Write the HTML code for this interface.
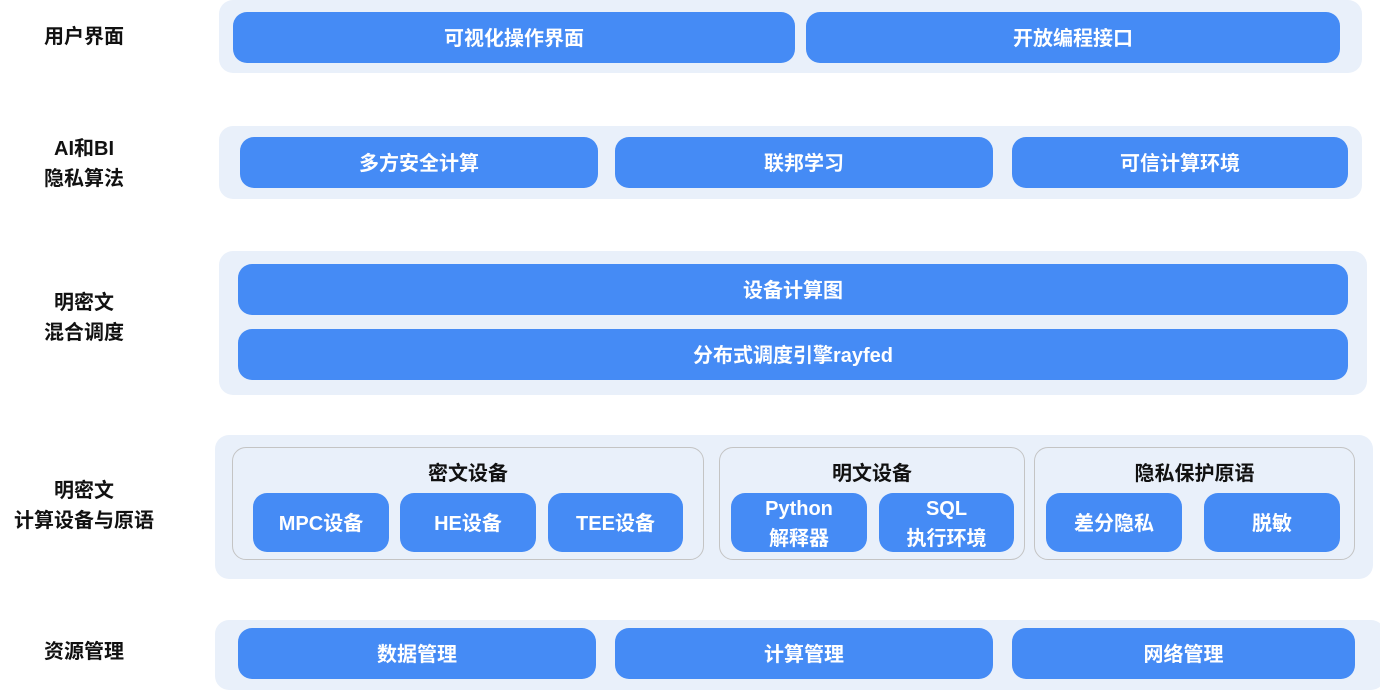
<!DOCTYPE html>
<html><head><meta charset="utf-8"><style>
body{margin:0;width:1380px;height:686px;background:#fff;position:relative;overflow:hidden;font-family:"Liberation Sans","Noto Sans CJK SC",sans-serif;font-weight:bold}
.p{position:absolute;background:#e9f0fa;border-radius:14px}
.b{position:absolute;background:#458bf5;color:#fff;border-radius:14px;display:flex;align-items:center;justify-content:center;text-align:center;font-size:20px;line-height:26px;padding-top:2px;box-sizing:border-box}
.b2{line-height:30px}
.g{position:absolute;border:1.5px solid #c4c4c4;border-radius:14px;box-sizing:border-box}
.t{position:absolute;color:#111;font-size:20px;text-align:center;line-height:30px}
</style></head><body>
<div class="t" style="left:0;width:168px;top:22px">用户界面</div>
<div class="t" style="left:0;width:168px;top:134px">AI和BI<br>隐私算法</div>
<div class="t" style="left:0;width:168px;top:288px">明密文<br>混合调度</div>
<div class="t" style="left:0;width:168px;top:476px">明密文<br>计算设备与原语</div>
<div class="t" style="left:0;width:168px;top:637px">资源管理</div>

<div class="p" style="left:219px;top:0;width:1143px;height:73px"></div>
<div class="b" style="left:233px;top:12px;width:562px;height:51px">可视化操作界面</div>
<div class="b" style="left:806px;top:12px;width:534px;height:51px">开放编程接口</div>

<div class="p" style="left:219px;top:126px;width:1143px;height:73px"></div>
<div class="b" style="left:240px;top:137px;width:358px;height:51px">多方安全计算</div>
<div class="b" style="left:615px;top:137px;width:378px;height:51px">联邦学习</div>
<div class="b" style="left:1012px;top:137px;width:336px;height:51px">可信计算环境</div>

<div class="p" style="left:219px;top:251px;width:1148px;height:144px"></div>
<div class="b" style="left:238px;top:264px;width:1110px;height:51px">设备计算图</div>
<div class="b" style="left:238px;top:329px;width:1110px;height:51px">分布式调度引擎rayfed</div>

<div class="p" style="left:215px;top:435px;width:1158px;height:144px"></div>
<div class="g" style="left:232px;top:447px;width:472px;height:113px"></div>
<div class="g" style="left:719px;top:447px;width:306px;height:113px"></div>
<div class="g" style="left:1034px;top:447px;width:321px;height:113px"></div>
<div class="t" style="left:232px;width:472px;top:459px">密文设备</div>
<div class="t" style="left:719px;width:306px;top:459px">明文设备</div>
<div class="t" style="left:1034px;width:321px;top:459px">隐私保护原语</div>
<div class="b" style="left:253px;top:493px;width:136px;height:59px">MPC设备</div>
<div class="b" style="left:400px;top:493px;width:136px;height:59px">HE设备</div>
<div class="b" style="left:548px;top:493px;width:135px;height:59px">TEE设备</div>
<div class="b b2" style="left:731px;top:493px;width:136px;height:59px">Python<br>解释器</div>
<div class="b b2" style="left:879px;top:493px;width:135px;height:59px">SQL<br>执行环境</div>
<div class="b" style="left:1046px;top:493px;width:136px;height:59px">差分隐私</div>
<div class="b" style="left:1204px;top:493px;width:136px;height:59px">脱敏</div>

<div class="p" style="left:215px;top:620px;width:1170px;height:70px"></div>
<div class="b" style="left:238px;top:628px;width:358px;height:51px">数据管理</div>
<div class="b" style="left:615px;top:628px;width:378px;height:51px">计算管理</div>
<div class="b" style="left:1012px;top:628px;width:343px;height:51px">网络管理</div>
</body></html>
